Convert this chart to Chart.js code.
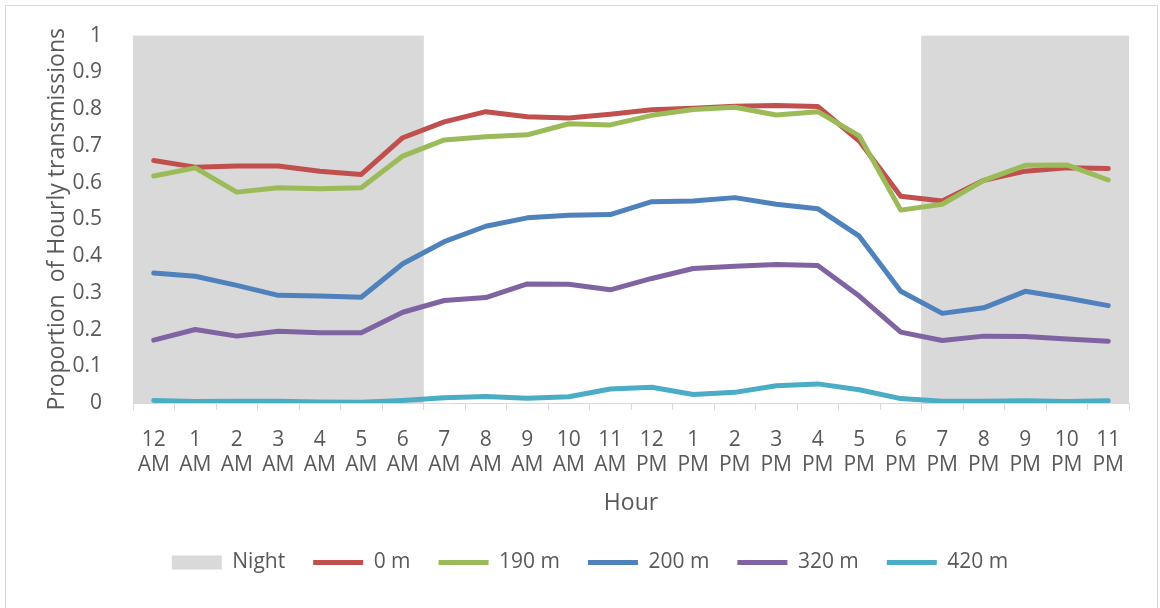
<!DOCTYPE html>
<html>
<head>
<meta charset="utf-8">
<script src="https://cdn.jsdelivr.net/npm/chart.js@4/dist/chart.umd.min.js"></script>
<style>
  html, body { margin: 0; padding: 0; background: #ffffff; }
  #wrap { width: 1160px; height: 608px; position: relative; }
</style>
</head>
<body>
<div id="wrap"><canvas id="c" width="1160" height="608"></canvas></div>
<script>
// ---- Data ----
const hours = [
  ['12','AM'],['1','AM'],['2','AM'],['3','AM'],['4','AM'],['5','AM'],['6','AM'],
  ['7','AM'],['8','AM'],['9','AM'],['10','AM'],['11','AM'],
  ['12','PM'],['1','PM'],['2','PM'],['3','PM'],['4','PM'],['5','PM'],['6','PM'],
  ['7','PM'],['8','PM'],['9','PM'],['10','PM'],['11','PM']
];
const night = [1,1,1,1,1,1,1, null,null,null,null,null,null,null,null,null,null,null,null, 1,1,1,1,1];
const s0m   = [0.660,0.642,0.645,0.645,0.631,0.622,0.722,0.765,0.793,0.779,0.776,0.786,0.798,0.802,0.808,0.810,0.807,0.713,0.563,0.550,0.606,0.631,0.640,0.638];
const s190m = [0.618,0.640,0.574,0.586,0.583,0.586,0.672,0.716,0.725,0.730,0.760,0.757,0.783,0.799,0.805,0.784,0.793,0.727,0.525,0.541,0.606,0.647,0.648,0.607];
const s200m = [0.354,0.345,0.320,0.293,0.291,0.288,0.379,0.439,0.481,0.504,0.511,0.513,0.548,0.550,0.559,0.541,0.529,0.454,0.304,0.244,0.259,0.304,0.286,0.265];
const s320m = [0.171,0.200,0.182,0.195,0.191,0.191,0.247,0.279,0.287,0.324,0.323,0.308,0.339,0.366,0.372,0.377,0.374,0.291,0.193,0.170,0.182,0.181,0.174,0.168];
const s420m = [0.007,0.004,0.005,0.005,0.003,0.002,0.007,0.014,0.018,0.013,0.017,0.038,0.043,0.023,0.029,0.047,0.052,0.036,0.012,0.005,0.005,0.006,0.004,0.006];
const yTicks = [0,0.1,0.2,0.3,0.4,0.5,0.6,0.7,0.8,0.9,1];

const FONT = "'Open Sans', 'Liberation Sans', sans-serif";
const TXT = '#595959';

function lineDs(label, data, color, order) {
  return {
    type: 'line', label, data, borderColor: color, backgroundColor: color,
    borderWidth: 5, pointRadius: 0, pointHoverRadius: 0, pointStyle: 'line',
    borderCapStyle: 'round', borderJoinStyle: 'round', tension: 0, fill: false, order
  };
}

const borderPlugin = {
  id: 'outerBorder',
  afterDraw(chart) {
    const ctx = chart.ctx;
    ctx.save();
    ctx.strokeStyle = '#D9D9D9';
    ctx.lineWidth = 1;
    ctx.strokeRect(5.5, 5.5, 1152, 640);
    ctx.restore();
  }
};

new Chart(document.getElementById('c'), {
  type: 'bar',
  data: {
    labels: hours,
    datasets: [
      { type: 'bar', label: 'Night', data: night, backgroundColor: '#D9D9D9', borderWidth: 0,
        barPercentage: 1, categoryPercentage: 1, pointStyle: 'rect', order: 10 },
      lineDs('0 m', s0m, '#C0504D', 5),
      lineDs('190 m', s190m, '#9BBB59', 4),
      lineDs('200 m', s200m, '#4F81BD', 3),
      lineDs('320 m', s320m, '#8064A2', 2),
      lineDs('420 m', s420m, '#4BACC6', 1)
    ]
  },
  options: {
    responsive: false,
    animation: false,
    events: [],
    layout: { padding: { top: 35, right: 31, left: 51, bottom: 25 } },
    plugins: {
      tooltip: { enabled: false },
      legend: {
        position: 'bottom',
        labels: {
          usePointStyle: true, pointStyleWidth: 50, boxHeight: 14,
          padding: 28, color: TXT, font: { family: FONT, size: 21 },
          sort: (a, b) => a.datasetIndex - b.datasetIndex
        }
      }
    },
    scales: {
      x: {
        afterFit(scale) { scale.height = 121; },
        grid: { display: true, drawOnChartArea: false, drawTicks: true, tickLength: 7, color: '#D9D9D9', offset: true },
        border: { display: true, color: '#D9D9D9', width: 1 },
        ticks: { color: TXT, font: { family: FONT, size: 21, lineHeight: 1.2 }, padding: 17, maxRotation: 0, autoSkip: false },
        title: { display: true, text: 'Hour', color: TXT, font: { family: FONT, size: 23, lineHeight: 1.2 }, padding: { top: 10, bottom: 7 } }
      },
      y: {
        min: 0, max: 1,
        afterFit(scale) { scale.width = 82; },
        afterBuildTicks(scale) { scale.ticks = yTicks.map(v => ({ value: v })); },
        grid: { display: false },
        border: { display: false },
        ticks: { color: TXT, font: { family: FONT, size: 21 }, padding: 23,
                 callback: (v) => String(Math.round(v * 10) / 10) },
        title: { display: true, text: 'Proportion  of Hourly transmissions', color: TXT,
                 font: { family: FONT, size: 23, lineHeight: 1.2 }, padding: { top: -7, bottom: 0 } }
      }
    }
  },
  plugins: [borderPlugin]
});
</script>
</body>
</html>
